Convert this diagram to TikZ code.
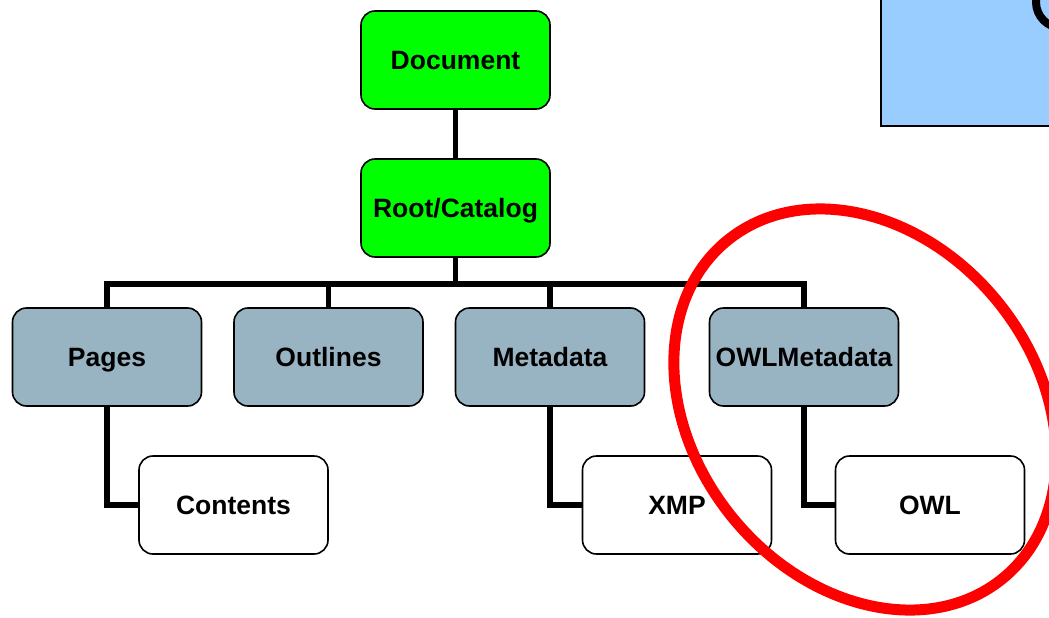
\documentclass[tikz,border=0pt]{standalone}
\usepackage{fontspec}
\setmainfont{Liberation Sans}
\usetikzlibrary{backgrounds}
\begin{document}
\begin{tikzpicture}[x=1pt,y=-1pt,
  box/.style={draw=black, line width=1.6pt, rounded corners=14pt,
    minimum width=189pt, minimum height=98pt, inner sep=0pt,
    text height=19pt, text depth=0pt,
    font=\fontsize{26.5}{30}\selectfont\bfseries},
  topbox/.style={box, fill=green},
  midbox/.style={box, fill=slate},
  leafbox/.style={box, fill=white},
  conn/.style={draw=black, line width=5.5pt, line join=miter}]
\definecolor{green}{RGB}{0,255,0}
\definecolor{slate}{RGB}{152,179,194}
\definecolor{sky}{RGB}{153,204,255}
\definecolor{marker}{RGB}{255,0,0}
\useasboundingbox (0,0) rectangle (1049,618);
\clip (0,0) rectangle (1049,618);

% nodes of the tree
\node[topbox]  (doc)      at (455.5,60)    {Document};
\node[topbox]  (root)     at (455.5,208)   {Root/Catalog};
\node[midbox]  (pages)    at (107,357)     {Pages};
\node[midbox]  (outlines) at (328.5,357)   {Outlines};
\node[midbox]  (meta)     at (550,357)     {Metadata};
\node[midbox]  (owlmeta)  at (804,357)     {OWLMetadata};
\node[leafbox] (contents) at (233.5,505)   {Contents};
\node[leafbox] (xmp)      at (677,505)     {XMP};
\node[leafbox] (owl)      at (930,505)     {OWL};
\coordinate (bus) at (455.5,284);

% connectors, behind the boxes
\begin{scope}[on background layer]
\draw[conn] (doc.south) -- (root.north);
\draw[conn] (root.south) -- (bus);
\draw[conn] (pages.north) |- (owlmeta.north |- bus) -- (owlmeta.north);
\draw[conn] (outlines.north) -- (outlines.north |- bus);
\draw[conn] (meta.north) -- (meta.north |- bus);
\draw[conn] (pages.south) |- (contents.west);
\draw[conn] (meta.south) |- (xmp.west);
\draw[conn] (owlmeta.south) |- (owl.west);
\end{scope}

% panel in the upper right corner
\draw[fill=sky, draw=black, line width=2.5pt] (881,-10) rectangle (1070,126);
\draw[black, line width=8pt] (1062,2) circle (26);

% red highlight ring
\draw[marker, line width=11pt, rotate around={-50.8:(865,409.5)}]
  (865,409.5) ellipse (218pt and 171pt);
\end{tikzpicture}
\end{document}
